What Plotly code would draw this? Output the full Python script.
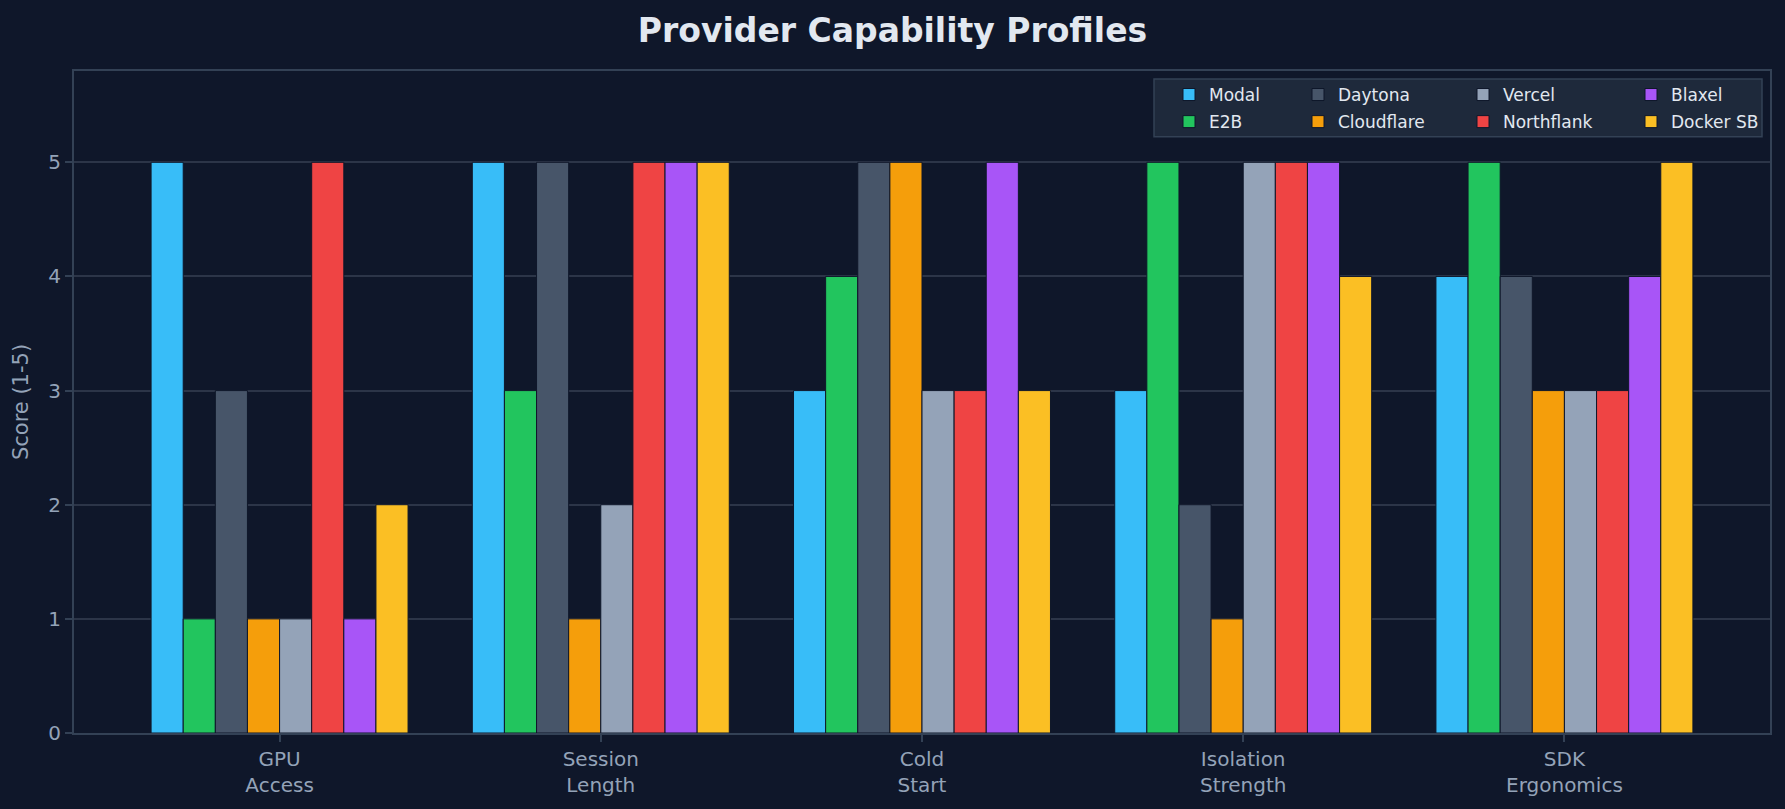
import plotly.graph_objects as go

categories = ["GPU<br>Access", "Session<br>Length", "Cold<br>Start", "Isolation<br>Strength", "SDK<br>Ergonomics"]
providers = ["Modal", "E2B", "Daytona", "Cloudflare", "Vercel", "Northflank", "Blaxel", "Docker SB"]
colors = ["#38bdf8", "#22c55e", "#475569", "#f59e0b", "#94a3b8", "#ef4444", "#a855f7", "#fbbf24"]

modal = [5, 5, 3, 3, 4]
e2b = [1, 3, 4, 5, 5]
daytona = [3, 5, 5, 2, 4]
cloudflare = [1, 1, 5, 1, 3]
vercel = [1, 2, 3, 5, 3]
northflank = [5, 5, 3, 5, 3]
blaxel = [1, 5, 5, 5, 4]
docker_sb = [2, 5, 3, 4, 5]

series = [modal, e2b, daytona, cloudflare, vercel, northflank, blaxel, docker_sb]

W, H = 1785, 809
ML, MR, MT, MB = 74, 15, 71, 73
PW, PH = W - ML - MR, H - MT - MB


def px_x(px):
    return (px - ML) / PW


def px_y(py):
    return (H - MB - py) / PH


BG = "#0f172a"
# four two-entry legend columns, like a 4-column legend
legend_ids = ["legend", "legend", "legend2", "legend2", "legend3", "legend3", "legend4", "legend4"]
col_left_px = [1169, 1298, 1463, 1631]

fig = go.Figure()
for i, (name, vals, col) in enumerate(zip(providers, series, colors)):
    fig.add_trace(go.Bar(
        x=list(range(len(categories))), y=vals, name=name,
        marker=dict(color=col, line=dict(color=BG, width=1)),
        legend=legend_ids[i], legendgroup=name,
    ))

legend_common = dict(
    orientation="v", xanchor="left", yanchor="top", y=px_y(77),
    bgcolor="rgba(0,0,0,0)", borderwidth=0,
    font=dict(size=17, color="#e2e8f0", family="DejaVu Sans"),
    tracegroupgap=2, traceorder="grouped", itemwidth=30,
)

fig.update_layout(
    width=W, height=H,
    paper_bgcolor=BG, plot_bgcolor=BG,
    font=dict(family="DejaVu Sans", color="#94a3b8", size=20),
    margin=dict(l=ML, r=MR, t=MT, b=MB),
    barmode="group", bargap=0.2, bargroupgap=0,
    title=dict(text="<b>Provider Capability Profiles</b>", x=0.5, xanchor="center",
               y=1 - 30 / H, yanchor="middle",
               font=dict(size=33, color="#e2e8f0", family="DejaVu Sans")),
    legend=dict(x=px_x(col_left_px[0]), **legend_common),
    legend2=dict(x=px_x(col_left_px[1]), **legend_common),
    legend3=dict(x=px_x(col_left_px[2]), **legend_common),
    legend4=dict(x=px_x(col_left_px[3]), **legend_common),
    showlegend=True,
    shapes=[dict(type="rect", xref="paper", yref="paper",
                 x0=px_x(1154), x1=px_x(1762), y0=px_y(137), y1=px_y(79),
                 fillcolor="#1e293b", line=dict(color="#334155", width=1.5),
                 layer="above")],
)
fig.update_xaxes(
    range=[-0.64, 4.64], tickmode="array", tickvals=list(range(len(categories))),
    ticktext=categories, showgrid=False, zeroline=False,
    showline=True, linecolor="#334155", linewidth=2, mirror=True,
    ticks="outside", ticklen=7, tickcolor="#334155", tickwidth=2,
    tickfont=dict(size=20, color="#94a3b8"),
)
fig.update_yaxes(
    range=[0, 5.8], tickvals=[0, 1, 2, 3, 4, 5], showgrid=True,
    gridcolor="rgba(148,163,184,0.22)", gridwidth=1.5, zeroline=False,
    showline=True, linecolor="#334155", linewidth=2, mirror=True,
    ticks="outside", ticklen=7, tickcolor="#334155", tickwidth=2,
    tickfont=dict(size=20, color="#94a3b8"), layer="above traces",
    title=dict(text="Score (1-5)", font=dict(size=21, color="#94a3b8"), standoff=14),
)

fig.write_html("out.html")
